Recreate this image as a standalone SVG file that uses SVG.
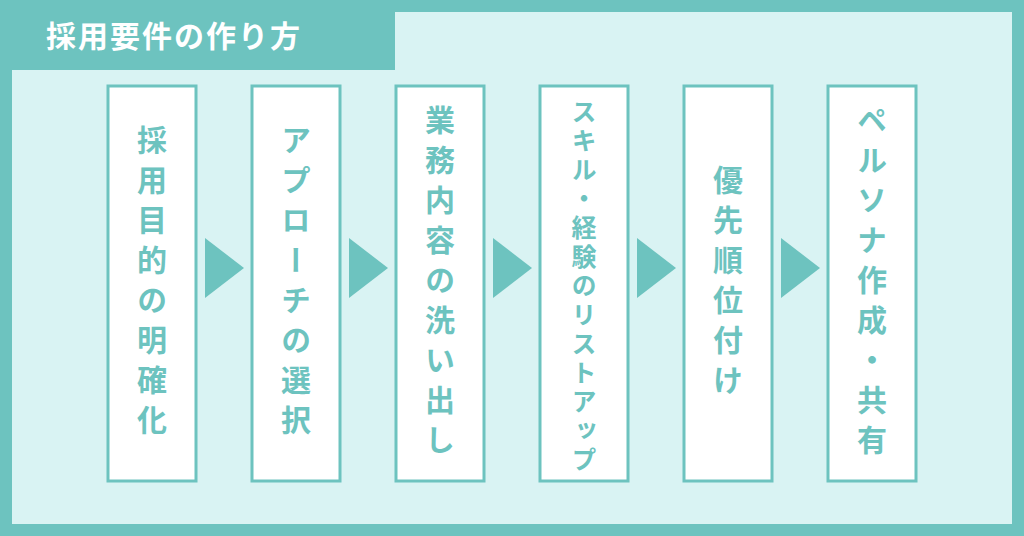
<svg xmlns="http://www.w3.org/2000/svg" width="1024" height="536" viewBox="0 0 1024 536">
<style>
.box{fill:#fff;stroke:#6dc3bf;stroke-width:3}
.arr{fill:#6dc3bf}
.v{font-family:"Noto Sans CJK JP",sans-serif;font-weight:bold;fill:#6dc3bf;writing-mode:vertical-rl;text-anchor:middle;font-size:30px;letter-spacing:10px}
.s{font-size:25px;letter-spacing:4px}
</style>
<rect x="0" y="0" width="1024" height="536" fill="#6dc3bf"/>
<rect x="12" y="70" width="1000" height="454" fill="#d9f3f3"/>
<rect x="395" y="12" width="617" height="60" fill="#d9f3f3"/>
<text x="46" y="47" font-family="Noto Sans CJK JP,sans-serif" font-weight="bold" font-size="30" fill="#fff" letter-spacing="2">採用要件の作り方</text>
<g id="connectors">
<polygon class="arr" points="205,238 244,268 205,298"/>
<polygon class="arr" points="349,238 388,268 349,298"/>
<polygon class="arr" points="493,238 532,268 493,298"/>
<polygon class="arr" points="637,238 676,268 637,298"/>
<polygon class="arr" points="781,238 820,268 781,298"/>
</g>
<g id="n1"><rect class="box" x="108" y="86" width="88" height="395"/><text class="v" x="152" y="285">採用目的の明確化</text></g>
<g id="n2"><rect class="box" x="252" y="86" width="88" height="395"/><text class="v" x="296" y="285">アプローチの選択</text></g>
<g id="n3"><rect class="box" x="396" y="86" width="88" height="395"/><text class="v" x="440" y="285">業務内容の洗い出し</text></g>
<g id="n4"><rect class="box" x="540" y="86" width="88" height="395"/><text class="v s" x="584" y="287">スキル・経験のリストアップ</text></g>
<g id="n5"><rect class="box" x="684" y="86" width="88" height="395"/><text class="v" x="728" y="285">優先順位付け</text></g>
<g id="n6"><rect class="box" x="828" y="86" width="88" height="395"/><text class="v" x="872" y="285">ペルソナ作成・共有</text></g>
</svg>
